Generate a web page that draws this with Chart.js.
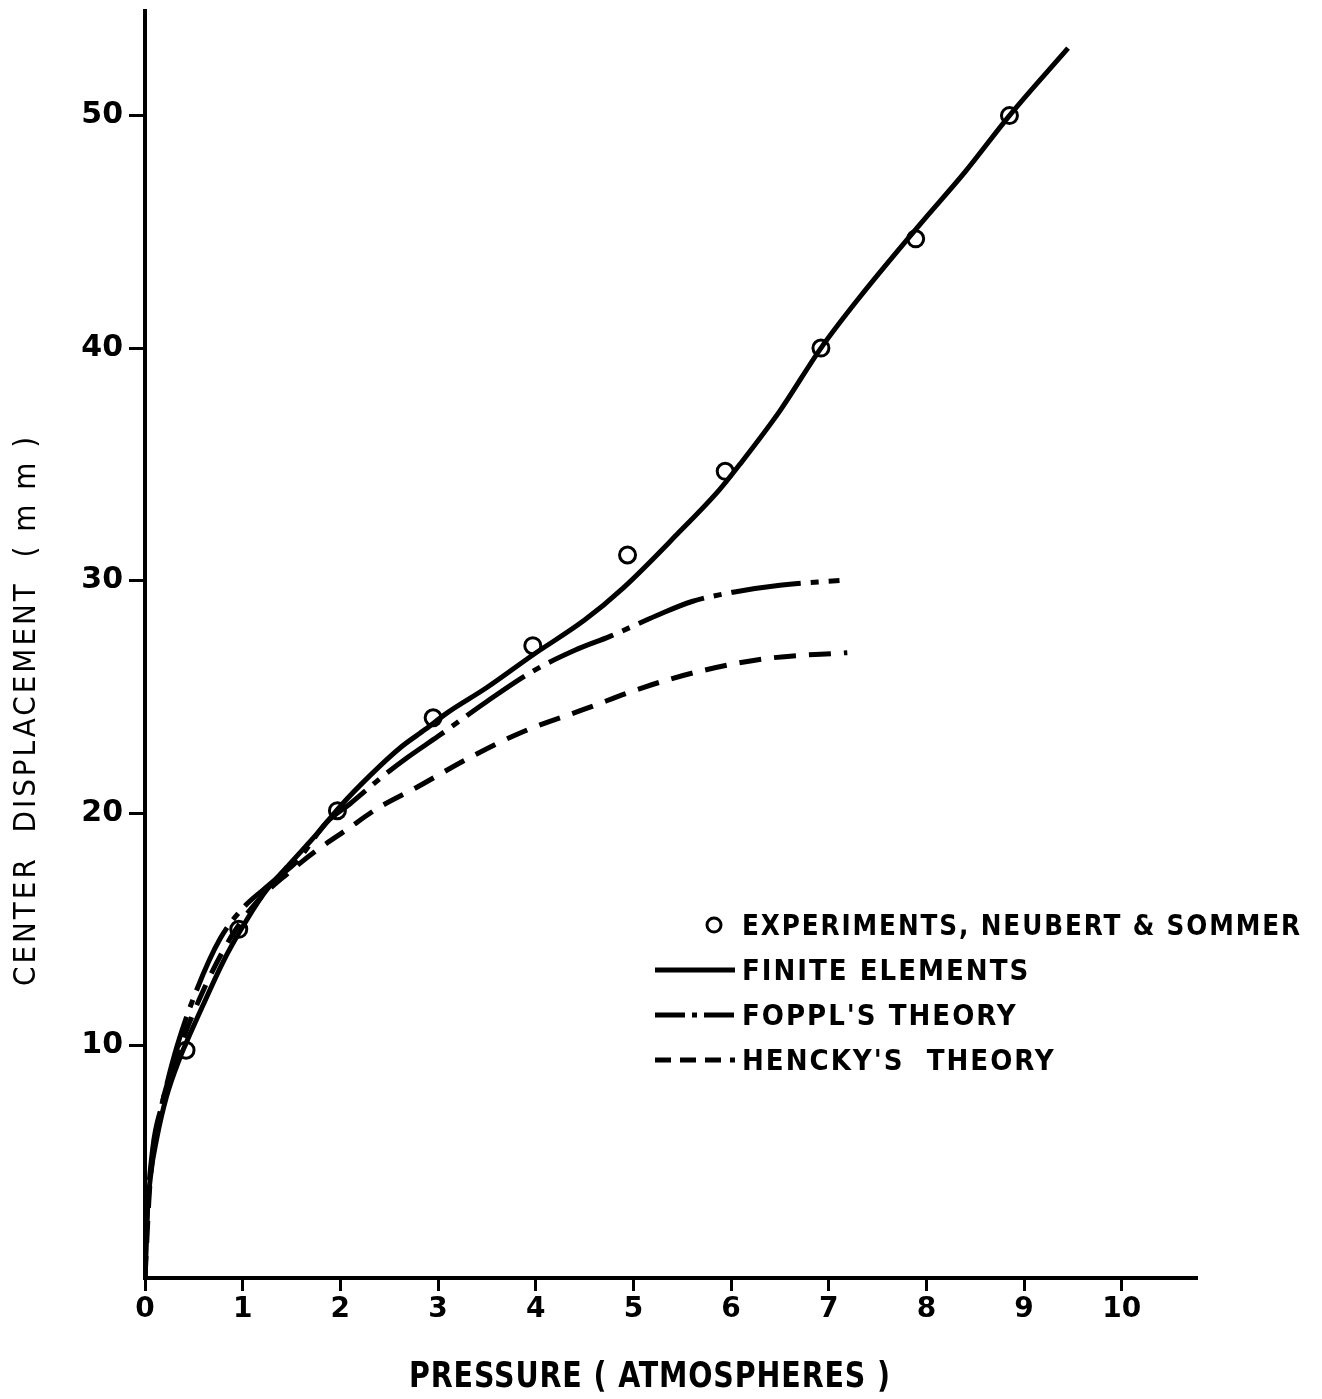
<!DOCTYPE html>
<html>
<head>
<meta charset="utf-8">
<script src="https://cdn.jsdelivr.net/npm/chart.js@4.4.1/dist/chart.umd.min.js"></script>
<style>
  html, body { margin: 0; padding: 0; background: #fff; }
  #wrap { width: 1322px; height: 1399px; position: relative; }
</style>
</head>
<body>
<div id="wrap"><canvas id="chart"></canvas></div>
<script>
// pressure (atmospheres) vs center displacement (mm)
const expX = [0.42, 0.96, 1.97, 2.95, 3.97, 4.94, 5.94, 6.92, 7.89, 8.85];
const expY = [9.8, 15.0, 20.1, 24.1, 27.2, 31.1, 34.7, 40.0, 44.7, 50.0];

const feX = [0, 0.02, 0.06, 0.12, 0.22, 0.36, 0.42, 0.59, 0.80, 0.97, 1.21, 1.48, 1.76, 2.0, 2.3, 2.61, 2.87, 3.09, 3.5, 3.97, 4.5, 4.9, 5.45, 5.88, 6.09, 6.5, 6.92, 7.3, 7.93, 8.4, 8.85, 9.45];
const feY = [0, 2.5, 4.5, 6.0, 7.8, 9.5, 10.1, 11.7, 13.6, 14.9, 16.5, 17.8, 19.1, 20.3, 21.6, 22.8, 23.6, 24.3, 25.4, 26.8, 28.3, 29.7, 32.0, 33.9, 35.0, 37.3, 40.0, 42.1, 45.3, 47.6, 50.0, 52.9];

const foepplX = [0, 0.02, 0.08, 0.17, 0.33, 0.53, 0.77, 1.0, 1.21, 1.35, 1.55, 1.86, 2.1, 2.44, 2.69, 3.0, 3.5, 3.97, 4.4, 4.76, 5.24, 5.6, 6.02, 6.5, 7.11];
const foepplY = [0, 2.5, 5.6, 7.4, 10.0, 12.4, 14.6, 15.9, 16.7, 17.2, 17.9, 19.6, 20.4, 21.6, 22.4, 23.3, 24.8, 26.1, 27.0, 27.6, 28.5, 29.1, 29.5, 29.8, 30.0];

const henckyX = [0, 0.05, 0.15, 0.35, 0.6, 0.9, 1.15, 1.46, 1.76, 2.07, 2.38, 2.78, 3.33, 3.87, 4.52, 5.1, 5.68, 6.37, 7.19];
const henckyY = [0, 4.0, 7.0, 9.8, 12.4, 14.8, 16.2, 17.4, 18.4, 19.3, 20.2, 21.1, 22.4, 23.5, 24.5, 25.4, 26.1, 26.65, 26.9];

const xTicks = [0, 1, 2, 3, 4, 5, 6, 7, 8, 9, 10];
const yTicks = [10, 20, 30, 40, 50];

const legendLabels = ['EXPERIMENTS, NEUBERT & SOMMER', 'FINITE ELEMENTS', "FOPPL'S THEORY", "HENCKY'S  THEORY"];
const xTitle = 'PRESSURE ( ATMOSPHERES )';
const yTitle = 'CENTER  DISPLACEMENT  ( m m )';

const toPoints = (xs, ys) => xs.map((x, i) => ({ x: x, y: ys[i] }));

// axis titles and the legend sit inside the figure, drawn by hand
const decorations = {
    id: 'decorations',
    afterDraw(chart) {
        const ctx = chart.ctx;
        ctx.save();
        ctx.fillStyle = '#000';
        ctx.textBaseline = 'middle';

        ctx.font = 'bold 36px "DejaVu Sans Condensed", "DejaVu Sans"';
        ctx.textAlign = 'center';
        ctx.letterSpacing = '1px';
        ctx.fillText(xTitle, 650, 1378, 482);

        ctx.save();
        ctx.translate(27, 710);
        ctx.rotate(-Math.PI / 2);
        ctx.font = '31px "DejaVu Sans Condensed", "DejaVu Sans"';
        ctx.letterSpacing = '3px';
        ctx.fillText(yTitle, 0, 0, 552);
        ctx.restore();

        // legend
        const rows = [925, 970, 1015, 1060];
        ctx.textAlign = 'left';
        ctx.font = 'bold 29px "DejaVu Sans Condensed", "DejaVu Sans"';
        ctx.letterSpacing = '2px';
        ctx.strokeStyle = '#000';

        ctx.lineWidth = 3;
        ctx.fillStyle = '#fff';
        ctx.beginPath();
        ctx.arc(714, rows[0], 7, 0, Math.PI * 2);
        ctx.fill();
        ctx.stroke();

        for (let i = 1; i < 4; i++) {
            ctx.lineWidth = 5;
            ctx.setLineDash(i === 2 ? [30, 7, 5, 7] : (i === 3 ? [16, 9] : []));
            ctx.beginPath();
            ctx.moveTo(655, rows[i]);
            ctx.lineTo(735, rows[i]);
            ctx.stroke();
        }
        ctx.setLineDash([]);
        ctx.fillStyle = '#000';
        legendLabels.forEach((t, i) => {
            ctx.fillText(t, 742, rows[i] + 2, i === 0 ? 560 : undefined);
        });
        ctx.restore();
    }
};

const ctx = document.getElementById('chart').getContext('2d');
const chart = new Chart(ctx, {
    type: 'scatter',
    data: {
        datasets: [
            {
                label: legendLabels[1],
                data: toPoints(feX, feY),
                showLine: true,
                borderColor: '#000',
                borderWidth: 5,
                pointRadius: 0,
                cubicInterpolationMode: 'monotone'
            },
            {
                label: legendLabels[2],
                data: toPoints(foepplX, foepplY),
                showLine: true,
                borderColor: '#000',
                borderWidth: 5,
                borderDash: [70, 10, 8, 10],
                pointRadius: 0,
                cubicInterpolationMode: 'monotone'
            },
            {
                label: legendLabels[3],
                data: toPoints(henckyX, henckyY),
                showLine: true,
                borderColor: '#000',
                borderWidth: 5,
                borderDash: [22, 13],
                pointRadius: 0,
                cubicInterpolationMode: 'monotone'
            },
            {
                label: legendLabels[0],
                data: toPoints(expX, expY),
                showLine: false,
                pointRadius: 8,
                pointBorderWidth: 3,
                pointBorderColor: '#000',
                pointBackgroundColor: '#fff'
            }
        ]
    },
    options: {
        responsive: true,
        maintainAspectRatio: false,
        animation: false,
        layout: { padding: { top: 0, right: 125, left: 0, bottom: 0 } },
        plugins: {
            legend: { display: false },
            tooltip: { enabled: false }
        },
        scales: {
            x: {
                type: 'linear',
                min: 0,
                max: 10.77,
                afterBuildTicks: (scale) => { scale.ticks = xTicks.map(v => ({ value: v })); },
                afterFit: (scale) => { scale.height = 121; },
                border: { display: true, color: '#000', width: 4 },
                grid: { drawOnChartArea: false, drawTicks: true, tickLength: 13, tickWidth: 3, tickColor: '#000' },
                ticks: {
                    color: '#000',
                    padding: 2,
                    maxRotation: 0,
                    font: { family: 'DejaVu Sans', weight: 'bold', size: 28 }
                }
            },
            y: {
                type: 'linear',
                min: 0,
                max: 54.5,
                afterBuildTicks: (scale) => { scale.ticks = yTicks.map(v => ({ value: v })); },
                afterFit: (scale) => {
                    scale.width = 145;
                    scale.paddingTop = 8;
                    scale.paddingBottom = 0;
                },
                border: { display: true, color: '#000', width: 4 },
                grid: { drawOnChartArea: false, drawTicks: true, tickLength: 16, tickWidth: 3, tickColor: '#000' },
                ticks: {
                    color: '#000',
                    padding: 6,
                    font: { family: 'DejaVu Sans', weight: 'bold', size: 30, lineHeight: 1 }
                }
            }
        }
    },
    plugins: [decorations]
});
</script>
</body>
</html>
